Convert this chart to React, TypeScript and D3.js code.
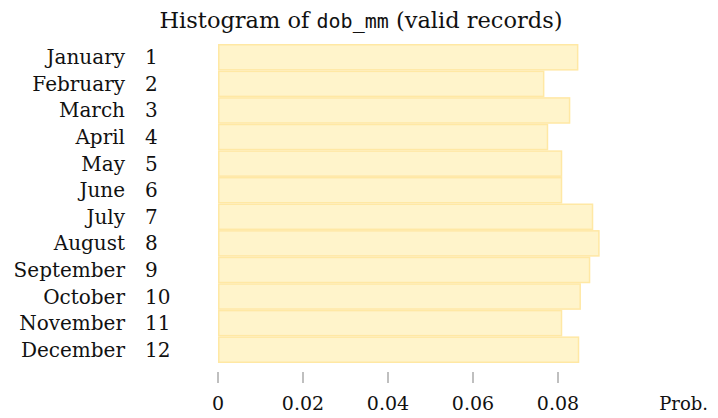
import React, { useEffect, useRef } from 'react';
import * as d3 from 'd3';

const monthNames = [
  'January', 'February', 'March', 'April', 'May', 'June',
  'July', 'August', 'September', 'October', 'November', 'December',
];
const monthNumbers = ['1', '2', '3', '4', '5', '6', '7', '8', '9', '10', '11', '12'];
const probabilities = [
  0.0848, 0.0768, 0.0829, 0.0777, 0.0810, 0.0810,
  0.0883, 0.0898, 0.0876, 0.0854, 0.0810, 0.0850,
];
const tickValues = [0, 0.02, 0.04, 0.06, 0.08];
const tickLabels = ['0', '0.02', '0.04', '0.06', '0.08'];

const App: React.FC = () => {
  const ref = useRef<SVGSVGElement | null>(null);

  useEffect(() => {
    document.body.style.margin = '0';
    const width = 718;
    const height = 418;
    const serif = "'DejaVu Serif', serif";

    const svg = d3.select(ref.current);
    svg.selectAll('*').remove();
    svg.attr('width', width).attr('height', height);

    const x = d3.scaleLinear().domain([0, 0.08]).range([218, 558]);
    const y = d3.scaleBand<string>().domain(monthNumbers).range([44, 363]).padding(0);

    // title, with the variable name in typewriter face
    const title = svg
      .append('text')
      .attr('x', 361)
      .attr('y', 28)
      .attr('text-anchor', 'middle')
      .style('font-family', serif)
      .style('font-size', '22.5px')
      .style('fill', '#111');
    title.append('tspan').text('Histogram of ');
    title
      .append('tspan')
      .style('font-family', "'DejaVu Sans Mono', monospace")
      .style('font-size', '20px')
      .text('dob_mm');
    title.append('tspan').text(' (valid records)');

    const rows = svg
      .selectAll('g.row')
      .data(probabilities)
      .enter()
      .append('g')
      .attr('class', 'row');

    rows
      .append('rect')
      .attr('x', x(0) + 0.75)
      .attr('y', (d, i) => (y(monthNumbers[i]) as number) + 0.75)
      .attr('width', (d) => x(d) - x(0) - 1.5)
      .attr('height', y.bandwidth() - 1.5)
      .style('fill', '#fff4cb')
      .style('stroke', '#ffe8a4')
      .style('stroke-width', 1.5);

    rows
      .append('text')
      .attr('x', 125)
      .attr('y', (d, i) => (y(monthNumbers[i]) as number) + y.bandwidth() / 2 + 7)
      .attr('text-anchor', 'end')
      .style('font-family', serif)
      .style('font-size', '20px')
      .style('fill', '#111')
      .text((d, i) => monthNames[i]);

    rows
      .append('text')
      .attr('x', 145)
      .attr('y', (d, i) => (y(monthNumbers[i]) as number) + y.bandwidth() / 2 + 7)
      .attr('text-anchor', 'start')
      .style('font-family', serif)
      .style('font-size', '20px')
      .style('fill', '#111')
      .text((d, i) => monthNumbers[i]);

    // x axis: short grey ticks, no domain line
    const axis = svg.append('g');
    axis
      .selectAll('line')
      .data(tickValues)
      .enter()
      .append('line')
      .attr('x1', (d) => x(d))
      .attr('x2', (d) => x(d))
      .attr('y1', 372)
      .attr('y2', 383)
      .style('stroke', '#aaa')
      .style('stroke-width', 1.5);

    axis
      .selectAll('text')
      .data(tickValues)
      .enter()
      .append('text')
      .attr('x', (d) => x(d))
      .attr('y', 410)
      .attr('text-anchor', 'middle')
      .style('font-family', serif)
      .style('font-size', '19px')
      .style('fill', '#111')
      .text((d, i) => tickLabels[i]);

    svg
      .append('text')
      .attr('x', 708)
      .attr('y', 410)
      .attr('text-anchor', 'end')
      .style('font-family', serif)
      .style('font-size', '18px')
      .style('fill', '#111')
      .text('Prob.');
  }, []);

  return <svg ref={ref} style={{ display: 'block' }}></svg>;
};

export default App;
